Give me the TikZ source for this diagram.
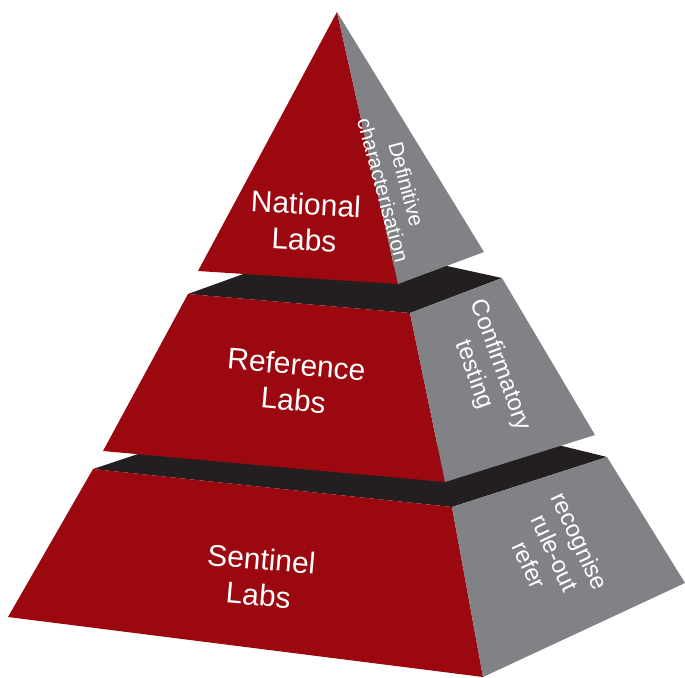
\documentclass[tikz,border=0pt]{standalone}
\usepackage{fontspec}
\setmainfont{Liberation Sans}
\definecolor{tierred}{RGB}{156,8,16}
\definecolor{tiergray}{RGB}{128,130,133}
\definecolor{tierblack}{RGB}{35,31,32}
\tikzset{
	front/.style={fill=tierred},
	side/.style={fill=tiergray},
	top/.style={fill=tierblack},
	mainlabel/.style={text=white, align=center, font=\fontsize{30}{36}\selectfont, rotate=-5},
	sidelabel/.style={text=white, align=center, font=\fontsize{24}{28}\selectfont}
}
\begin{document}
\begin{tikzpicture}[x=1pt, y=-1pt]
		\useasboundingbox (0,0) rectangle (685,677);
		% bottom tier
		\fill[top] (93,469)--(452,507)--(607,457)--(560,445.5)--(165,445)--cycle;
		\fill[front] (93,469)--(452,507)--(483,677)--(8,617)--cycle;
		\fill[side] (452,507)--(607,457)--(685,583)--(483,677)--cycle;
		% middle tier
		\fill[top] (188,294)--(410,313)--(502,278)--(447,266)--(260,268)--cycle;
		\fill[front] (188,294)--(410,313)--(445,482)--(103,451)--cycle;
		\fill[side] (410,313)--(502,278)--(595,435)--(445,482)--cycle;
		% top tier
		\fill[front] (337,12)--(398,284)--(198,271)--cycle;
		\fill[side] (337,12)--(484,252)--(398,284)--cycle;
		% labels
		\node[mainlabel, rotate=2] (national) at (305,222) {National\\Labs};
		\node[mainlabel] (reference) at (295,382) {Reference\\Labs};
		\node[mainlabel] (sentinel) at (260,577) {Sentinel\\Labs};
		\node[sidelabel, rotate=-75, font=\fontsize{21}{24}\selectfont] (definitive) at (395,187) {Definitive\\characterisation};
		\node[sidelabel, rotate=-70] (confirmatory) at (487,370) {Confirmatory\\testing};
		\node[sidelabel, rotate=-65] (recognise) at (555,553) {recognise\\rule-out\\refer};
	\end{tikzpicture}
\end{document}
